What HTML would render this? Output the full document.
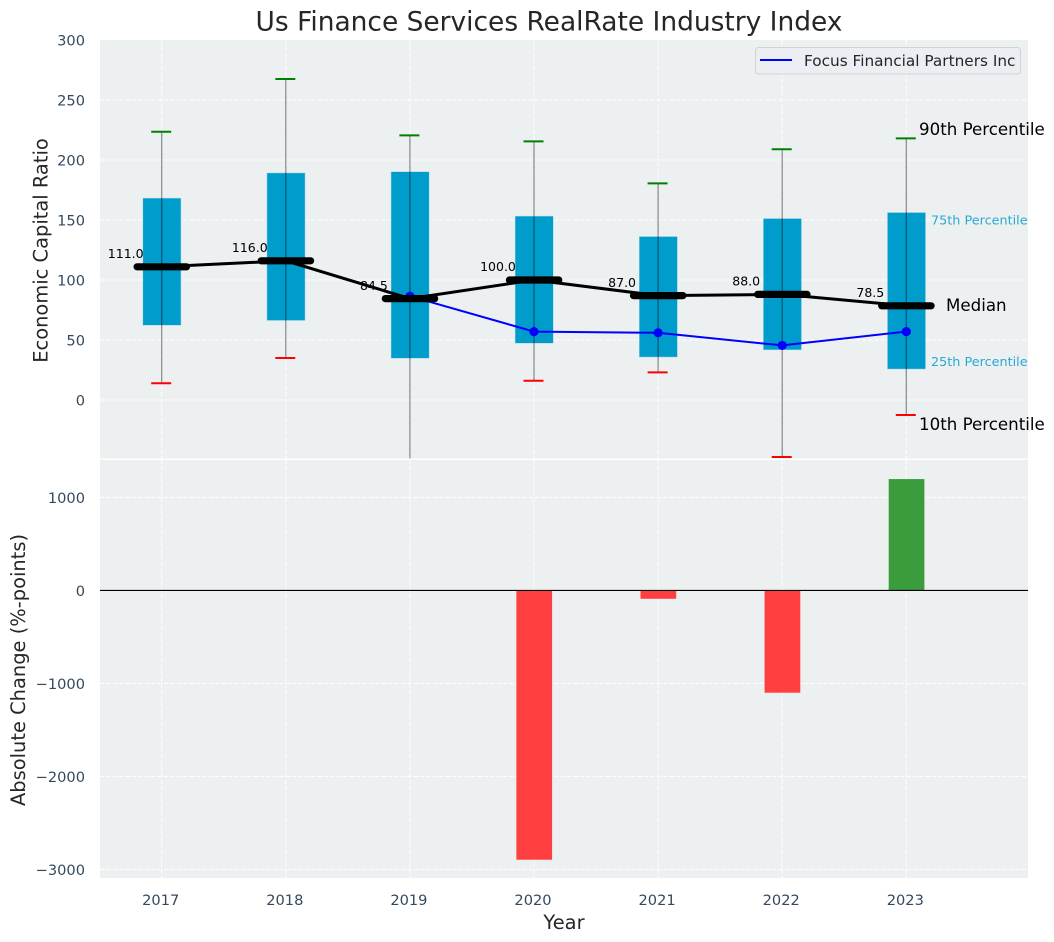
<!DOCTYPE html>
<html lang="en">
<head>
<meta charset="utf-8">
<title>Us Finance Services RealRate Industry Index</title>
<style>
html,body{margin:0;padding:0;background:#fff;width:1054px;height:942px;overflow:hidden}
svg{display:block;font-family:"DejaVu Sans","Liberation Sans",sans-serif}
</style>
</head>
<body>
<svg id="chart" xmlns="http://www.w3.org/2000/svg" width="1054" height="942" viewBox="0 0 1054 942">
  <defs>
    <clipPath id="top-clip"><rect x="100" y="40" width="928" height="418.5"/></clipPath>
  </defs>
  <rect x="0" y="0" width="1054" height="942" fill="#ffffff"/>
  <rect x="100" y="40" width="928" height="418.5" fill="#ecf0f1"/>
  <rect x="100" y="460" width="928" height="418" fill="#ecf0f1"/>
  <g id="grid"></g>
  <g id="bottom-marks"></g>
  <g id="top-marks" clip-path="url(#top-clip)"></g>
  <g id="tick-labels"></g>
  <g id="median-labels"></g>

  <text x="549" y="30.7" text-anchor="middle" font-size="26.45" fill="#262626">Us Finance Services RealRate Industry Index</text>
  <text transform="translate(47.3,250.5) rotate(-90)" text-anchor="middle" font-size="19.44" fill="#262626">Economic Capital Ratio</text>
  <text transform="translate(24.8,670) rotate(-90)" text-anchor="middle" font-size="19.44" fill="#262626">Absolute Change (%-points)</text>
  <text x="564" y="929" text-anchor="middle" font-size="19.44" fill="#262626">Year</text>

  <g>
    <rect x="755.5" y="47.5" width="265" height="26.5" rx="3" fill="#eceef3" stroke="#d2d2d4" stroke-width="1"/>
    <line x1="760" y1="60" x2="792" y2="60" stroke="#0000ff" stroke-width="2"/>
    <text x="804" y="66" font-size="15.3" fill="#262626">Focus Financial Partners Inc</text>
  </g>

  <text x="919" y="135" font-size="16.67" fill="#000000">90th Percentile</text>
  <text x="931" y="224.5" font-size="12.8" fill="#2aa8d4">75th Percentile</text>
  <text x="946" y="311" font-size="16.67" fill="#000000">Median</text>
  <text x="931" y="366" font-size="12.8" fill="#2aa8d4">25th Percentile</text>
  <text x="919" y="430" font-size="16.67" fill="#000000">10th Percentile</text>
</svg>
<script>
const years = [2017, 2018, 2019, 2020, 2021, 2022, 2023];
const p90 = [223.5, 267.5, 220.5, 215.5, 180.5, 209, 218];
const p75 = [168, 189, 190, 153, 136, 151, 156];
const medians = [111, 116, 84.5, 100, 87, 88, 78.5];
const p25 = [62.5, 66.5, 35, 47.5, 36, 42, 26];
const p10 = [14, 35, -60, 16, 23, -47.5, -12.5];
const focus = [null, null, 86.5, 57, 56, 45.5, 57];
const changes = [null, null, null, -2896, -90, -1100, 1197];
const topTicks = [0, 50, 100, 150, 200, 250, 300];
const bottomTicks = [-3000, -2000, -1000, 0, 1000];

const NS = 'http://www.w3.org/2000/svg';
const xPos = function (year) { return 161.7 + (year - 2017) * 124.1; };
const yTop = function (v) { return 400 - v * 1.2; };
const yBottom = function (v) { return 590.4 - v * 0.0930; };

function make(parent, tag, attrs) {
  const el = document.createElementNS(NS, tag);
  Object.keys(attrs).forEach(function (k) { el.setAttribute(k, attrs[k]); });
  parent.appendChild(el);
  return el;
}
function fmt(v) { return String(v).replace('-', '\u2212'); }

const grid = document.getElementById('grid');
const bottomMarks = document.getElementById('bottom-marks');
const topMarks = document.getElementById('top-marks');
const tickLabels = document.getElementById('tick-labels');
const medianLabels = document.getElementById('median-labels');
const gridStyle = { stroke: '#ffffff', 'stroke-width': 1.1, 'stroke-dasharray': '4.4 2', 'stroke-opacity': 0.85 };

topTicks.forEach(function (t) {
  if (t < 300) {
    const g = make(grid, 'line', Object.assign({ x1: 100, x2: 1028, y1: yTop(t), y2: yTop(t) }, gridStyle));
    
    
  }
  const lab = make(tickLabels, 'text', { x: 85, y: yTop(t) + 5.4, 'text-anchor': 'end', 'font-size': 14.6, fill: '#34495e' });
  lab.textContent = fmt(t);
  
  
});

bottomTicks.forEach(function (t) {
  const g = make(grid, 'line', Object.assign({ x1: 100, x2: 1028, y1: yBottom(t), y2: yBottom(t) }, gridStyle));
  
  
  const lab = make(tickLabels, 'text', { x: 85, y: yBottom(t) + 5.4, 'text-anchor': 'end', 'font-size': 14.6, fill: '#34495e' });
  lab.textContent = fmt(t);
  
  
});

years.forEach(function (yr) {
  const g1 = make(grid, 'line', Object.assign({ x1: xPos(yr), x2: xPos(yr), y1: 40, y2: 458.5 }, gridStyle));
  
  
  const g2 = make(grid, 'line', Object.assign({ x1: xPos(yr), x2: xPos(yr), y1: 460, y2: 878 }, gridStyle));
  
  
  const lab = make(tickLabels, 'text', { x: xPos(yr) - 1, y: 905, 'text-anchor': 'middle', 'font-size': 14.6, fill: '#34495e' });
  lab.textContent = String(yr);
  
  
});

/* change bars */
years.forEach(function (yr, i) {
  const v = changes[i];
  if (v === null) return;
  const y0 = yBottom(Math.max(v, 0));
  const h = Math.abs(yBottom(v) - yBottom(0));
  const bar = make(bottomMarks, 'rect', { x: xPos(yr) - 17.6, y: y0, width: 35.7, height: h, fill: v < 0 ? '#ff3e40' : '#3b9c3e' });
  
  
});
const zero = make(bottomMarks, 'line', { x1: 100, x2: 1028, y1: yBottom(0), y2: yBottom(0), stroke: '#000000', 'stroke-width': 1.1 });



/* boxes */
years.forEach(function (yr, i) {
  const box = make(topMarks, 'rect', { x: xPos(yr) - 18.6, y: yTop(p75[i]), width: 37.6, height: yTop(p25[i]) - yTop(p75[i]), fill: '#009ccc', stroke: '#009ccc', 'stroke-opacity': 0.3, 'stroke-width': 1 });
  
  
});

/* whiskers and caps */
years.forEach(function (yr, i) {
  const w = make(topMarks, 'line', { x1: xPos(yr), x2: xPos(yr), y1: yTop(p90[i]), y2: yTop(p10[i]), stroke: '#000000', 'stroke-opacity': 0.45, 'stroke-width': 1.2 });
  
  
  const hi = make(topMarks, 'line', { x1: xPos(yr) - 10.5, x2: xPos(yr) + 9.5, y1: yTop(p90[i]), y2: yTop(p90[i]), stroke: '#008000', 'stroke-width': 2 });
  
  
  const lo = make(topMarks, 'line', { x1: xPos(yr) - 10.5, x2: xPos(yr) + 9.5, y1: yTop(p10[i]), y2: yTop(p10[i]), stroke: '#ff0000', 'stroke-width': 2 });
  
  
});

/* focus series */
const focusPts = [];
years.forEach(function (yr, i) {
  if (focus[i] !== null) focusPts.push(xPos(yr) + ',' + yTop(focus[i]));
});
const fl = make(topMarks, 'polyline', { points: focusPts.join(' '), fill: 'none', stroke: '#0000ff', 'stroke-width': 2 });


years.forEach(function (yr, i) {
  if (focus[i] === null) return;
  const dot = make(topMarks, 'circle', { cx: xPos(yr), cy: yTop(focus[i]), r: 4.6, fill: '#0000ff' });
  
  
});

/* median trend */
const medPts = years.map(function (yr, i) { return xPos(yr) + ',' + yTop(medians[i]); }).join(' ');
const ml = make(topMarks, 'polyline', { points: medPts, fill: 'none', stroke: '#000000', 'stroke-width': 3 });


years.forEach(function (yr, i) {
  const m = make(topMarks, 'line', { x1: xPos(yr) - 24.6, x2: xPos(yr) + 24.8, y1: yTop(medians[i]), y2: yTop(medians[i]), stroke: '#000000', 'stroke-width': 7.2, 'stroke-linecap': 'round' });
  
  
  const t = make(medianLabels, 'text', { x: xPos(yr) - 36, y: yTop(medians[i]) - 8.8, 'text-anchor': 'middle', 'font-size': 12.5, fill: '#000000' });
  t.textContent = medians[i].toFixed(1);
  
  
});
</script>
</body>
</html>
